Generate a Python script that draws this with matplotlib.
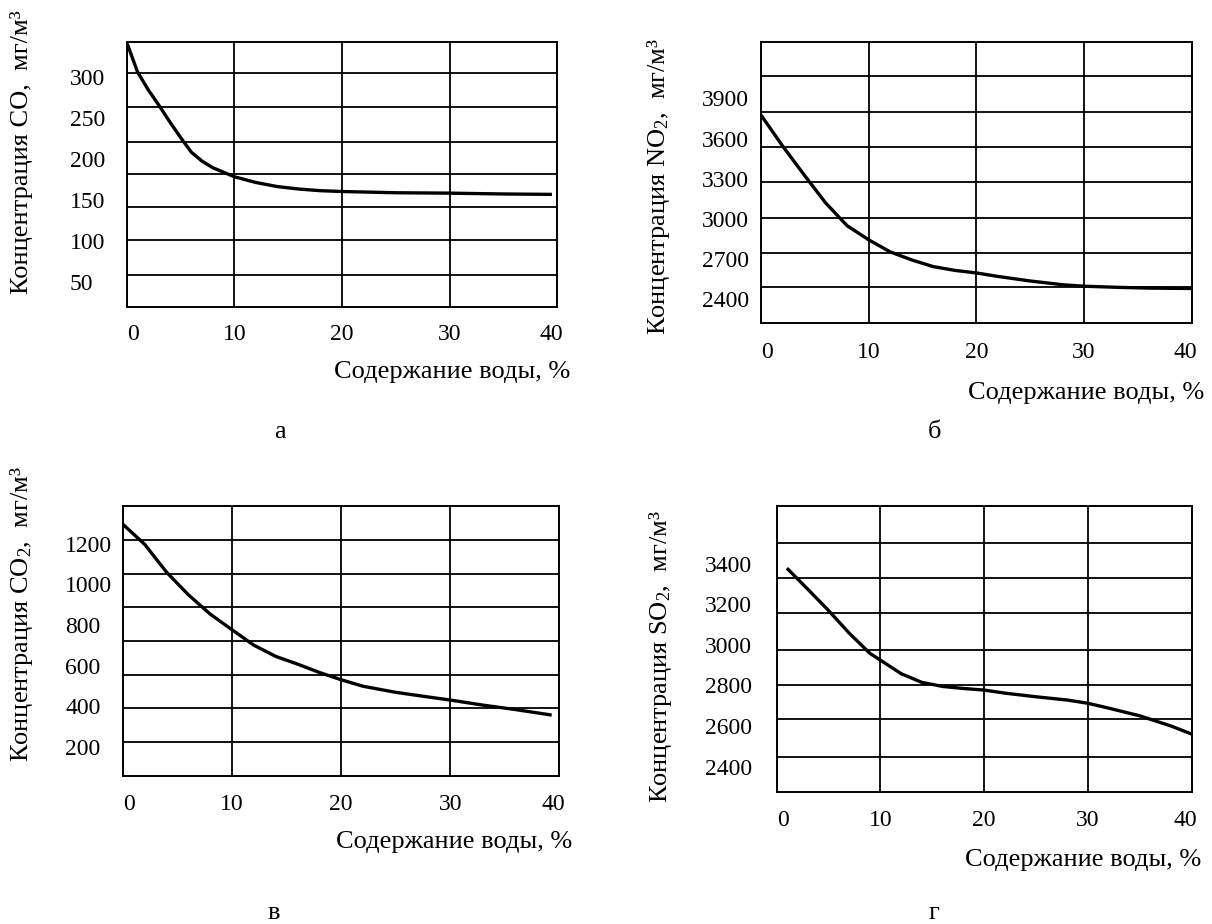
import matplotlib
matplotlib.use("Agg")
import matplotlib.pyplot as plt
import matplotlib.transforms as mtransforms

plt.rcParams['font.family'] = ['Liberation Serif', 'DejaVu Serif']
plt.rcParams['mathtext.fontset'] = 'custom'
plt.rcParams['mathtext.rm'] = 'Liberation Serif'
plt.rcParams['mathtext.it'] = 'Liberation Serif:italic'

# ---------------- data ----------------
x_co = [0, 1, 2, 3, 4, 5, 6, 7, 8, 10, 12, 14, 16, 18, 20, 25, 30, 35, 39.5]
y_co = [342, 306, 284, 265, 245, 226, 208, 197, 189, 178, 171, 166, 163, 161, 160, 158.5, 158, 157, 156.5]

x_no2 = [0, 2, 4, 6, 8, 10, 12, 14, 16, 18, 20, 22, 25, 28, 30, 33, 36, 40]
y_no2 = [3775, 3545, 3330, 3120, 2950, 2845, 2755, 2695, 2645, 2617, 2598, 2572, 2538, 2510, 2499, 2491, 2485, 2482]

x_co2 = [0, 2, 4, 6, 8, 10, 12, 14, 16, 18, 20, 22, 25, 28, 30, 33, 36, 39.3]
y_co2 = [1295, 1196, 1059, 948, 853, 776, 700, 645, 607, 566, 530, 498, 468, 445, 430, 405, 383, 356]

x_so2 = [1, 3, 5, 7, 9, 10, 12, 14, 16, 18, 20, 22, 25, 28, 30, 32, 35, 38, 40]
y_so2 = [3378, 3275, 3170, 3058, 2958, 2925, 2858, 2815, 2795, 2785, 2777, 2762, 2744, 2728, 2712, 2688, 2650, 2600, 2560]

x_ticks = [0, 10, 20, 30, 40]
yt_co = [50, 100, 150, 200, 250, 300]
yt_no2 = [2400, 2700, 3000, 3300, 3600, 3900]
yt_co2 = [200, 400, 600, 800, 1000, 1200]
yt_so2 = [2400, 2600, 2800, 3000, 3200, 3400]

xlabel = 'Содержание воды, %'
ylabels = ['Концентрация CO,  мг/м³',
           'Концентрация NO$_{\\mathrm{2}}$,  мг/м³',
           'Концентрация CO$_{\\mathrm{2}}$,  мг/м³',
           'Концентрация SO$_{\\mathrm{2}}$,  мг/м³']
letters = ['а', 'б', 'в', 'г']

# ---------------- layout (pixels of a 1212x924 canvas) ----------------
W, H = 1212, 924
fig = plt.figure(figsize=(W / 100, H / 100), dpi=100)

panels = [
    dict(x=x_co, y=y_co, yt=yt_co, box=(126.7, 557.3, 41.7, 307.3), ylim=(18.8, 342.7),
         grid=[304.1, 263.4, 220.7, 181.3, 140.7, 100.9, 58.2], lab_left=70, xpad=12,
         ylab=(22, 294), xlab=(570, 372), letter=(280, 432)),
    dict(x=x_no2, y=y_no2, yt=yt_no2, box=(761.0, 1191.7, 41.7, 323.5), ylim=(2221, 4322),
         grid=[4066, 3800, 3534, 3278, 3004, 2748, 2490], lab_left=701.7, xpad=13.5,
         ylab=(658, 335), xlab=(1204, 393), letter=(934, 432)),
    dict(x=x_co2, y=y_co2, yt=yt_co2, box=(123.0, 559.3, 505.5, 776.0), ylim=(56, 1388),
         grid=[1216, 1049, 888, 721, 552, 389, 225], lab_left=65, xpad=13,
         ylab=(22, 762), xlab=(572, 842), letter=(274, 913)),
    dict(x=x_so2, y=y_so2, yt=yt_so2, box=(776.5, 1191.7, 505.5, 791.5), ylim=(2277, 3687),
         grid=[3503, 3331, 3157, 2977, 2802, 2633, 2449], lab_left=705, xpad=13.5,
         ylab=(661, 803), xlab=(1201, 860), letter=(934, 913)),
]

TICK_FS = 17
LAB_FS = 19

for i, p in enumerate(panels):
    l, r, t, b = p['box']
    ax = fig.add_axes([l / W, 1 - b / H, (r - l) / W, (b - t) / H])
    ax.plot(p['x'], p['y'], color='black', lw=2.4, solid_capstyle='butt', solid_joinstyle='round')
    ax.set_xlim(0, 40)
    ax.set_ylim(*p['ylim'])

    # grid lines (major ticks) without labels
    ax.set_xticks(x_ticks)
    ax.set_yticks(p['grid'])
    ax.set_yticklabels([])
    ax.grid(True, which='major', color='black', lw=1.3)
    for s in ax.spines.values():
        s.set_linewidth(1.4)
        s.set_color('black')

    # y tick labels (minor ticks), left aligned
    ax.set_yticks(p['yt'], minor=True)
    ax.set_yticklabels([str(v) for v in p['yt']], minor=True)
    ypad = (l - p['lab_left']) * 0.72
    ax.tick_params(axis='y', which='both', length=0)
    ax.tick_params(axis='y', which='minor', pad=ypad, labelsize=TICK_FS)
    for lab in ax.get_yticklabels(minor=True):
        lab.set_horizontalalignment('left')

    ax.set_xticklabels([str(v) for v in x_ticks])
    ax.tick_params(axis='x', which='both', length=0, pad=p['xpad'], labelsize=TICK_FS)
    xl = ax.get_xticklabels()
    xl[0].set_transform(xl[0].get_transform() + mtransforms.ScaledTranslation(6 / 100, 0, fig.dpi_scale_trans))
    xl[-1].set_transform(xl[-1].get_transform() + mtransforms.ScaledTranslation(-6 / 100, 0, fig.dpi_scale_trans))

    # axis titles
    yx, yb = p['ylab']
    fig.text(yx / W, 1 - yb / H, ylabels[i], rotation=90, ha='center', va='bottom', fontsize=LAB_FS)
    xx, xy = p['xlab']
    fig.text(xx / W, 1 - xy / H, xlabel, ha='right', va='center', fontsize=LAB_FS)
    lx, ly = p['letter']
    fig.text(lx / W, 1 - ly / H, letters[i], ha='center', va='center', fontsize=19)

fig.savefig('out.png', dpi=100, facecolor='white')
